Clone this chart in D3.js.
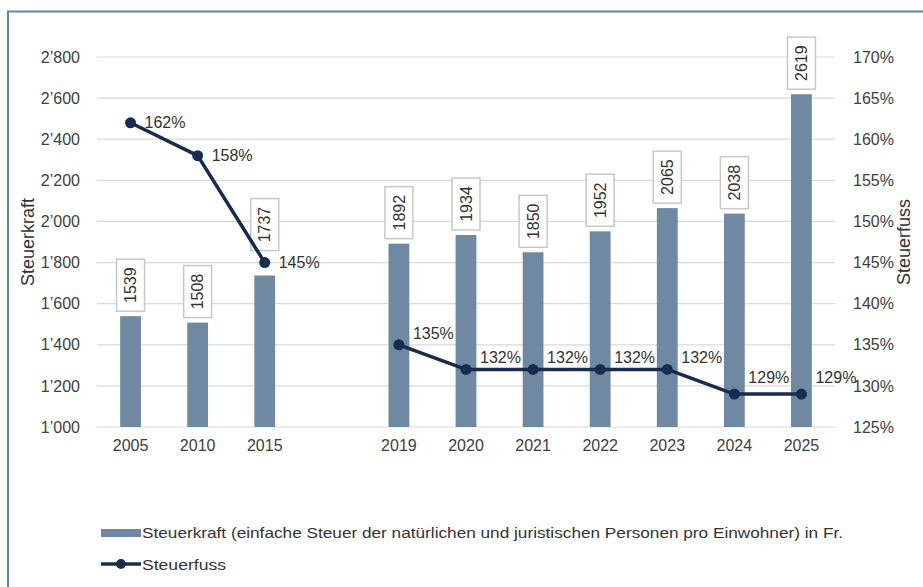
<!DOCTYPE html>
<html><head><meta charset="utf-8">
<script src="https://cdn.jsdelivr.net/npm/d3@7"></script>
<style>body{margin:0;background:#fff}svg{display:block}text{font-family:"Liberation Sans",Arial,sans-serif}</style>
</head><body>
<script>
const categories = ["2005","2010","2015","","2019","2020","2021","2022","2023","2024","2025"];
const steuerkraft = [1539,1508,1737,null,1892,1934,1850,1952,2065,2038,2619];
const steuerfuss = [162,158,145,null,135,132,132,132,132,129,129];
const leftTicks = [1000,1200,1400,1600,1800,2000,2200,2400,2600,2800];
const rightTicks = [125,130,135,140,145,150,155,160,165,170];
const barLabel = "Steuerkraft (einfache Steuer der natürlichen und juristischen Personen pro Einwohner) in Fr.";
const lineLabel = "Steuerfuss";

const W=923,H=587;
const svg=d3.select("body").append("svg").attr("width",W).attr("height",H);
svg.append("rect").attr("x",8).attr("y",11.5).attr("width",960).attr("height",640)
  .attr("fill","none").attr("stroke","#5b8ba2").attr("stroke-width",2);

const x=d3.scaleBand().domain(categories.map((c,i)=>i)).range([97,835]).paddingInner(0.69).paddingOuter(0.345);
const yL=d3.scaleLinear().domain([1000,2800]).range([427,57]);
const yR=d3.scaleLinear().domain([125,170]).range([427,57]);
const cx=i=>x(i)+x.bandwidth()/2;

// grid
svg.append("g").selectAll("line").data(leftTicks).join("line")
  .attr("x1",97).attr("x2",835).attr("y1",d=>yL(d)).attr("y2",d=>yL(d))
  .attr("stroke","#d9d9d9").attr("stroke-width",1.2);

const fmt=d=>d3.format(",")(d).replace(",","’");
// left axis
const gl=svg.append("g").attr("transform","translate(97,0)")
  .call(d3.axisLeft(yL).tickValues(leftTicks).tickFormat(fmt).tickSize(0).tickPadding(17));
gl.select(".domain").remove();
gl.selectAll("text").attr("font-size",16).attr("fill","#404040").attr("font-family","Liberation Sans, Arial, sans-serif");
// right axis
const gr=svg.append("g").attr("transform","translate(835,0)")
  .call(d3.axisRight(yR).tickValues(rightTicks).tickFormat(d=>d+"%").tickSize(0).tickPadding(18));
gr.select(".domain").remove();
gr.selectAll("text").attr("font-size",16).attr("fill","#404040").attr("font-family","Liberation Sans, Arial, sans-serif");
// x axis
const gx=svg.append("g").attr("transform","translate(0,427)")
  .call(d3.axisBottom(x).tickFormat(i=>categories[i]).tickSize(0).tickPadding(13));
gx.select(".domain").remove();
gx.selectAll("text").attr("font-size",16).attr("fill","#404040").attr("font-family","Liberation Sans, Arial, sans-serif");

// axis titles
svg.append("text").attr("transform","translate(34,242) rotate(-90)").attr("text-anchor","middle")
  .attr("font-size",18).attr("fill","#333").text("Steuerkraft");
svg.append("text").attr("transform","translate(910,242) rotate(-90)").attr("text-anchor","middle")
  .attr("font-size",18).attr("fill","#333").text("Steuerfuss");

// bars
const barData=steuerkraft.map((v,i)=>({v,i})).filter(d=>d.v!=null);
svg.append("g").selectAll("rect").data(barData).join("rect")
  .attr("x",d=>x(d.i)).attr("width",x.bandwidth())
  .attr("y",d=>yL(d.v)).attr("height",d=>yL(1000)-yL(d.v)).attr("fill","#7089a2");

// bar labels
const boxW=28,boxH=52;
const lg=svg.append("g");
barData.forEach(d=>{
  const top=yL(d.v);
  let bottom=top-5;
  const lv=steuerfuss[d.i];
  if(lv!=null){const my=yR(lv); if(my<top && my>bottom-boxH) bottom=my-12;}
  const g=lg.append("g");
  g.append("rect").attr("x",cx(d.i)-boxW/2).attr("y",bottom-boxH).attr("width",boxW).attr("height",boxH)
    .attr("fill","#fff").attr("stroke","#c8c8c8").attr("stroke-width",1.5);
  g.append("text").attr("transform",`translate(${cx(d.i)},${bottom-boxH/2}) rotate(-90)`)
    .attr("text-anchor","middle").attr("dy","0.36em").attr("font-size",16).attr("fill","#333").text(d.v);
});

// line
const line=d3.line().defined(d=>d!=null).x((d,i)=>cx(i)).y(d=>yR(d));
svg.append("path").datum(steuerfuss).attr("d",line).attr("fill","none")
  .attr("stroke","#172c4f").attr("stroke-width",3.5).attr("stroke-linejoin","round");
const pts=steuerfuss.map((v,i)=>({v,i})).filter(d=>d.v!=null);
svg.append("g").selectAll("circle").data(pts).join("circle")
  .attr("cx",d=>cx(d.i)).attr("cy",d=>yR(d.v)).attr("r",5.5).attr("fill","#172c4f");
const minV=d3.min(steuerfuss);
svg.append("g").selectAll("text").data(pts).join("text")
  .attr("x",d=>cx(d.i)+14)
  .attr("y",d=>yR(d.v)+(d.i<3?5:(d.v===minV?-11:-6)))
  .attr("font-size",16).attr("fill","#333").text(d=>d.v+"%");

// legend
svg.append("rect").attr("x",101).attr("y",529).attr("width",40).attr("height",8).attr("fill","#7089a2");
svg.append("text").attr("x",142).attr("y",537.5).attr("font-size",15).attr("fill","#333")
  .attr("textLength",701).attr("lengthAdjust","spacingAndGlyphs").text(barLabel);
svg.append("line").attr("x1",101).attr("x2",141).attr("y1",564).attr("y2",564).attr("stroke","#172c4f").attr("stroke-width",3.5);
svg.append("circle").attr("cx",121).attr("cy",564).attr("r",5).attr("fill","#172c4f");
svg.append("text").attr("x",142).attr("y",569.5).attr("font-size",15).attr("fill","#333")
  .attr("textLength",84).attr("lengthAdjust","spacingAndGlyphs").text(lineLabel);
</script>
</body></html>
